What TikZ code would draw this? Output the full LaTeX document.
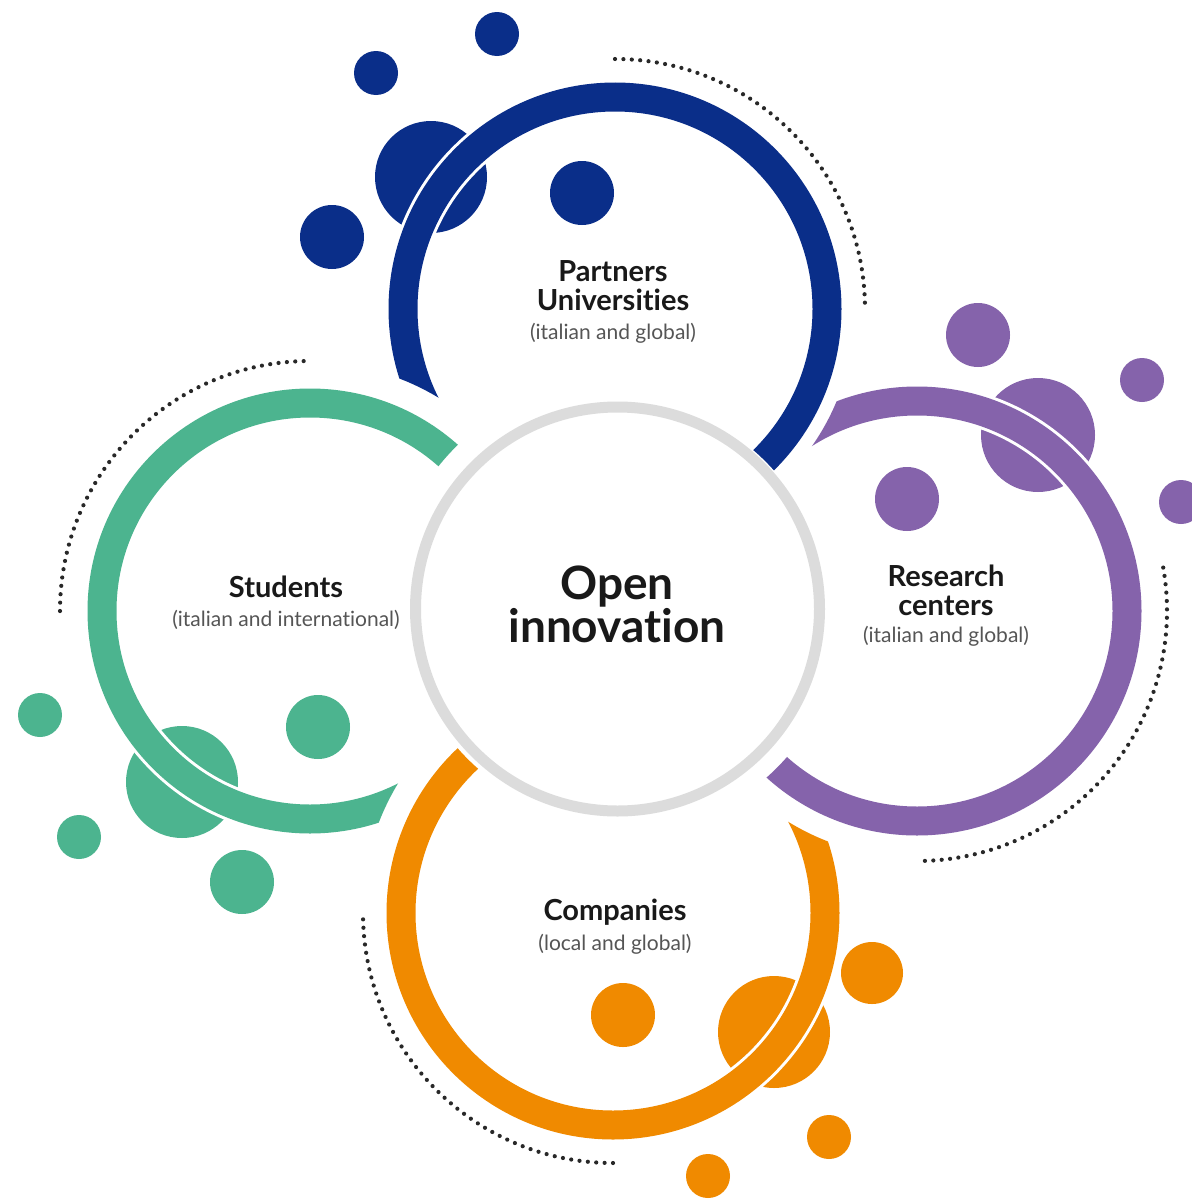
\documentclass[tikz,border=0pt]{standalone}
\usepackage{fontspec}
\setmainfont{Lato}[Ligatures=CommonOff]
\begin{document}
\begin{tikzpicture}[x=0.5pt,y=-0.5pt]
\definecolor{cblue}{RGB}{10,46,137}
\definecolor{cpurple}{RGB}{133,99,171}
\definecolor{cgreen}{RGB}{76,180,143}
\definecolor{corange}{RGB}{240,138,0}
\definecolor{cgray}{RGB}{220,220,220}
\definecolor{cdot}{RGB}{40,40,40}
\definecolor{ctext}{RGB}{25,25,25}
\definecolor{csub}{RGB}{85,85,85}
\tikzset{
 dotarc/.style={cdot, line width=2.1pt, line cap=round, dash pattern=on 0pt off 4.2pt},
 ttl/.style={text=ctext, font=\fontsize{14.5}{14.5}\selectfont\bfseries, align=center, inner sep=0pt},
 sub/.style={text=csub, font=\fontsize{10.5}{12}\selectfont, inner sep=0pt},
 bigttl/.style={text=ctext, font=\fontsize{23}{21.5}\selectfont\bfseries, align=center, inner sep=0pt},
}
\newcommand\ringarc[7]{%
 \begin{scope}[even odd rule]
 \clip (-50,-50) rectangle (1250,1250) (O) circle[radius=#5];
 \begin{scope}[even odd rule]
 \clip (-50,-50) rectangle (1250,1250) (#6) circle[radius=#7];
 \draw[white, line width=17.5pt] (#2) circle[radius=#3];
 \draw[#1, line width=#4] (#2) circle[radius=#3];
 \end{scope}
 \end{scope}}
\useasboundingbox (0,0) rectangle (1192,1199);
\fill[white] (0,0) rectangle (1192,1199);
\coordinate (O) at (617.5,609);
\coordinate (B) at (615,309);
\coordinate (P) at (917,611);
\coordinate (Q) at (613,913);
\coordinate (G) at (310,611);
% bubbles
\fill[cblue] (497,34) circle[radius=22] (376,73) circle[radius=22] (431,177) circle[radius=56] (332,237) circle[radius=32] (582,193) circle[radius=32];
\fill[cpurple] (978,335) circle[radius=32] (1142,380) circle[radius=22] (1038,435) circle[radius=57] (907,499) circle[radius=32] (1181,502) circle[radius=22];
\fill[cgreen] (40,715) circle[radius=22] (79,837) circle[radius=22] (182,782) circle[radius=56] (242,882) circle[radius=32] (318,727) circle[radius=32];
\fill[corange] (623,1015) circle[radius=32] (774,1032) circle[radius=56] (872,973) circle[radius=31] (829,1137) circle[radius=22] (708,1176) circle[radius=22];
% rings
\ringarc{cblue}{B}{212}{14.5pt}{209}{G}{249}
\ringarc{cpurple}{P}{210}{14.5pt}{225}{B}{240}
\ringarc{corange}{Q}{212}{14.5pt}{212}{P}{247}
\ringarc{cgreen}{G}{208}{14.5pt}{229}{Q}{251}
% centre ring
\draw[cgray, line width=5.5pt] (O) circle[radius=202];
% dotted arcs
\draw[dotarc] (B) ++(-90:250) arc[start angle=-90, end angle=0, radius=250];
\draw[dotarc] (P) ++(-10:250) arc[start angle=-10, end angle=90, radius=250];
\draw[dotarc] (Q) ++(90:250) arc[start angle=90, end angle=180, radius=250];
\draw[dotarc] (G) ++(180:250) arc[start angle=180, end angle=270, radius=250];
% texts
\node[bigttl] (tO) at (617,604) {Open\\innovation};
\node[ttl] (tPU) at (613,286) {Partners\\Universities};
\node[sub] (sPU) at (613,333) {(italian and global)};
\node[ttl] (tS) at (286,587) {Students};
\node[sub] (sS) at (286,620) {(italian and international)};
\node[ttl] (tR) at (946,590) {Research\\centers};
\node[sub] (sR) at (946,636) {(italian and global)};
\node[ttl] (tC) at (615,912) {Companies};
\node[sub] (sC) at (615,944) {(local and global)};
\end{tikzpicture}
\end{document}
